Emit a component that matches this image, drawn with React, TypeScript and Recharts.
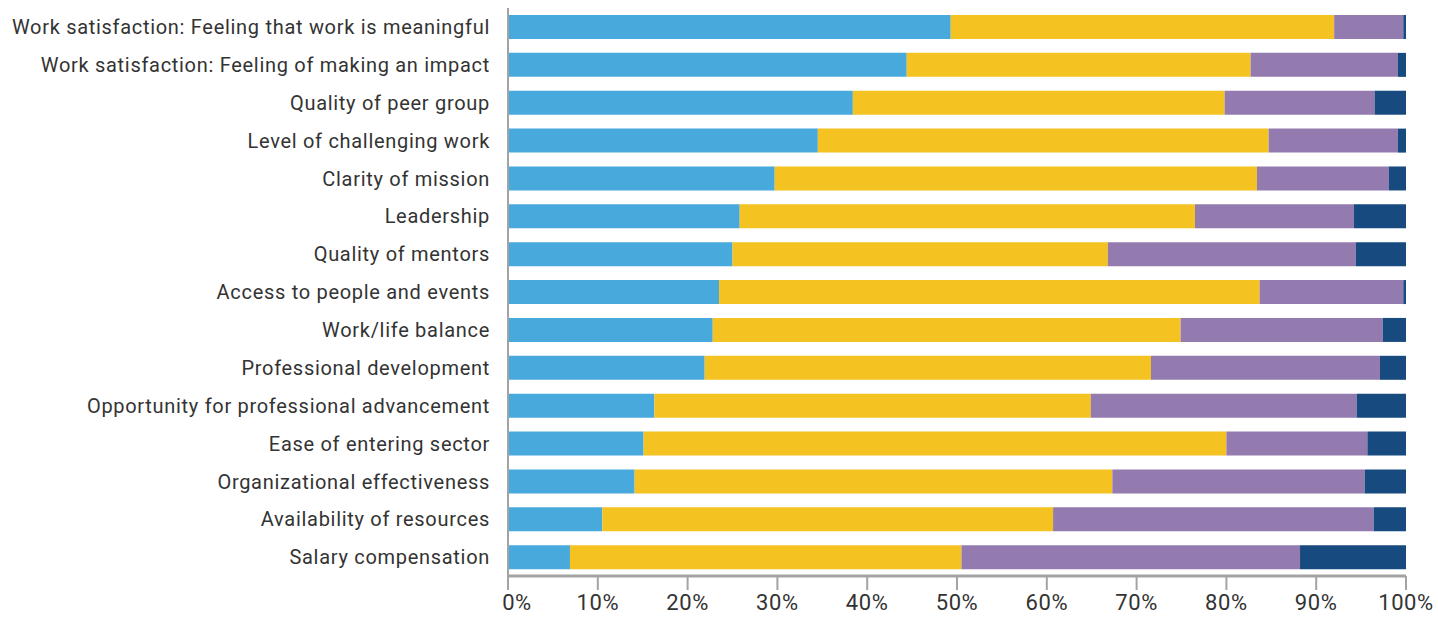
import React from "react";
import { BarChart, Bar, XAxis, YAxis } from "recharts";

const categories = [
  "Work satisfaction: Feeling that work is meaningful",
  "Work satisfaction: Feeling of making an impact",
  "Quality of peer group",
  "Level of challenging work",
  "Clarity of mission",
  "Leadership",
  "Quality of mentors",
  "Access to people and events",
  "Work/life balance",
  "Professional development",
  "Opportunity for professional advancement",
  "Ease of entering sector",
  "Organizational effectiveness",
  "Availability of resources",
  "Salary compensation",
];

const seriesBlue = [49.3, 44.4, 38.4, 34.5, 29.7, 25.8, 25.0, 23.5, 22.8, 21.9, 16.3, 15.1, 14.1, 10.5, 6.9];
const seriesYellow = [42.7, 38.3, 41.4, 50.2, 53.7, 50.7, 41.8, 60.2, 52.1, 49.7, 48.6, 64.9, 53.2, 50.2, 43.6];
const seriesPurple = [7.7, 16.4, 16.7, 14.4, 14.7, 17.7, 27.6, 16.0, 22.5, 25.5, 29.6, 15.7, 28.1, 35.7, 37.7];
const seriesNavy = [0.3, 0.9, 3.5, 0.9, 1.9, 5.8, 5.6, 0.3, 2.6, 2.9, 5.5, 4.3, 4.6, 3.6, 11.8];

const xTicks = [0, 10, 20, 30, 40, 50, 60, 70, 80, 90, 100];

const data = categories.map((name, i) => ({
  name,
  blue: seriesBlue[i],
  yellow: seriesYellow[i],
  purple: seriesPurple[i],
  navy: seriesNavy[i],
}));

const FONT = "Roboto, 'DejaVu Sans', sans-serif";

const XTick = (props: any) => {
  const { x, y, payload } = props;
  const dx = payload.value === 0 ? 9 : 0;
  return (
    <text
      x={x + dx}
      y={y}
      dy="0.71em"
      textAnchor="middle"
      fill="#333333"
      fontSize={22}
      letterSpacing={0.6}
      fontFamily={FONT}
    >
      {payload.value + "%"}
    </text>
  );
};

const YTick = (props: any) => {
  const { x, y, payload } = props;
  return (
    <text
      x={x}
      y={y}
      dy="0.36em"
      textAnchor="end"
      fill="#333333"
      fontSize={20}
      letterSpacing={0.7}
      fontFamily={FONT}
    >
      {payload.value}
    </text>
  );
};

export default function App() {
  return (
    <div style={{ position: "absolute", left: 0, top: 0, background: "#fff" }}>
      <BarChart
        width={1438}
        height={617}
        data={data}
        layout="vertical"
        margin={{ top: 8, right: 32, bottom: 0, left: 0 }}
        barSize={24}
      >
        <XAxis
          type="number"
          domain={[0, 100]}
          ticks={xTicks}
          interval={0}
          height={41}
          axisLine={{ stroke: "#a3a3a3", strokeWidth: 3 }}
          tickLine={{ stroke: "#a3a3a3", strokeWidth: 2 }}
          tickSize={14}
          tickMargin={4}
          tick={<XTick />}
        />
        <YAxis
          type="category"
          dataKey="name"
          width={508}
          axisLine={{ stroke: "#a3a3a3", strokeWidth: 2 }}
          tickLine={false}
          tickSize={0}
          tickMargin={18}
          interval={0}
          tick={<YTick />}
        />
        <Bar dataKey="blue" stackId="a" fill="#48a9dd" isAnimationActive={false} />
        <Bar dataKey="yellow" stackId="a" fill="#f4c221" isAnimationActive={false} />
        <Bar dataKey="purple" stackId="a" fill="#937bb0" isAnimationActive={false} />
        <Bar dataKey="navy" stackId="a" fill="#174a7e" isAnimationActive={false} />
      </BarChart>
    </div>
  );
}
